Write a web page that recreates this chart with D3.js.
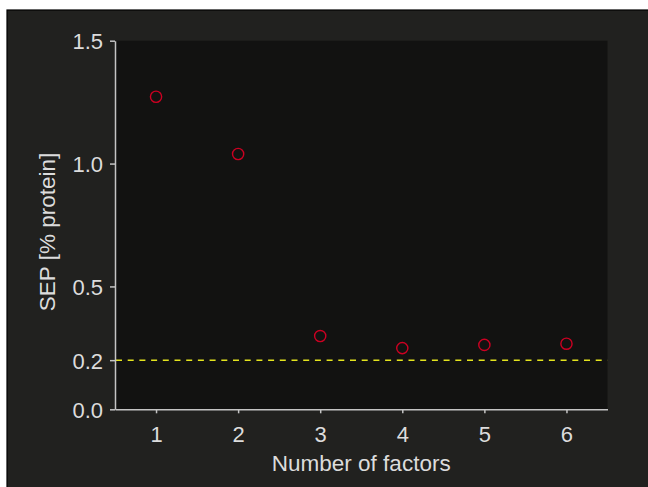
<!DOCTYPE html>
<html>
<head>
<meta charset="utf-8">
<script src="https://cdn.jsdelivr.net/npm/d3@7"></script>
<style>
  html, body { margin: 0; padding: 0; background: #ffffff; }
  svg { display: block; }
  text { font-family: "Liberation Sans", Arial, sans-serif; fill: #dcdcdc; }
</style>
</head>
<body>
<svg id="chart" width="648" height="487"></svg>
<script>
  // number of factors vs SEP
  var factors = [1, 2, 3, 4, 5, 6];
  var sep = [1.272, 1.039, 0.298, 0.249, 0.262, 0.267];
  var xTicks = [1, 2, 3, 4, 5, 6];
  var yTicks = [0, 0.2, 0.5, 1.0, 1.5];
  var limitValue = 0.2;

  var svg = d3.select('#chart');

  // figure background with dark edge
  svg.append('rect').attr('x', 7).attr('y', 10).attr('width', 650).attr('height', 490)
    .attr('fill', '#21211f').attr('stroke', '#000').attr('stroke-width', 1.2);

  var plotLeft = 115, plotRight = 607.5, plotTop = 40.7, plotBottom = 409.3;

  var x = d3.scaleLinear().domain([0.5, 6.5]).range([plotLeft, plotRight]);
  var y = d3.scaleLinear().domain([0, 1.5]).range([plotBottom, plotTop]);

  svg.append('rect').attr('x', plotLeft).attr('y', plotTop)
    .attr('width', plotRight - plotLeft).attr('height', plotBottom - plotTop)
    .attr('fill', '#121211');

  // reference line
  svg.append('line')
    .attr('x1', plotLeft + 1).attr('x2', plotRight)
    .attr('y1', y(limitValue)).attr('y2', y(limitValue))
    .attr('stroke', '#e4e41e').attr('stroke-width', 1.5)
    .attr('stroke-dasharray', '6,5.7');

  var xAxis = svg.append('g').attr('transform', 'translate(0,' + plotBottom + ')')
    .call(d3.axisBottom(x).tickValues(xTicks).tickFormat(d3.format('d')).tickSize(4).tickSizeOuter(0));
  var yAxis = svg.append('g').attr('transform', 'translate(' + plotLeft + ',0)')
    .call(d3.axisLeft(y).tickValues(yTicks).tickFormat(d3.format('.1f')).tickSize(5).tickSizeOuter(0));

  [xAxis, yAxis].forEach(function(ax) {
    ax.select('.domain').attr('stroke', '#c4c4c4').attr('stroke-width', 1.5);
    ax.selectAll('.tick line').attr('stroke', '#c4c4c4').attr('stroke-width', 1.5);
    ax.selectAll('.tick text').attr('fill', '#dcdcdc')
      .style('font-size', '22px').style('font-family', '"Liberation Sans", Arial, sans-serif');
  });
  xAxis.selectAll('.tick text').attr('y', 0).attr('dy', '33px');
  yAxis.selectAll('.tick text').attr('x', -12).attr('dy', '0.36em');

  svg.selectAll('circle.pt').data(factors).enter().append('circle')
    .attr('class', 'pt')
    .attr('cx', function(d) { return x(d); })
    .attr('cy', function(d, i) { return y(sep[i]); })
    .attr('r', 5.6)
    .attr('fill', 'none')
    .attr('stroke', '#cc0022')
    .attr('stroke-width', 1.4);

  svg.append('text').attr('x', (plotLeft + plotRight) / 2).attr('y', 470.5)
    .attr('text-anchor', 'middle').style('font-size', '22.5px')
    .text('Number of factors');

  svg.append('text')
    .attr('transform', 'translate(55,232) rotate(-90)')
    .attr('text-anchor', 'middle').style('font-size', '22.5px')
    .text('SEP [% protein]');
</script>
</body>
</html>
